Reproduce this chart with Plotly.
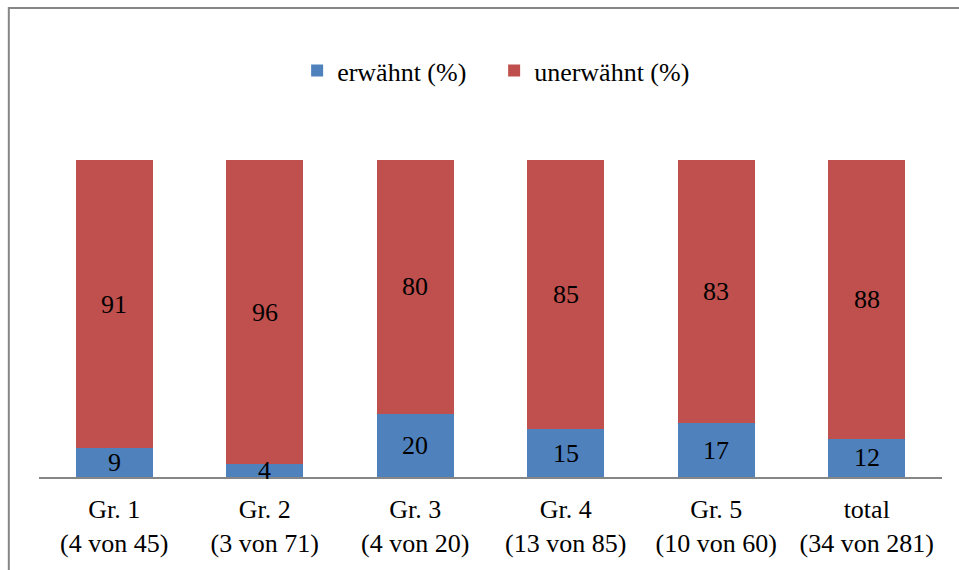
import plotly.graph_objects as go

# Share of entries per group, in percent
groups = ["Gr. 1", "Gr. 2", "Gr. 3", "Gr. 4", "Gr. 5", "total"]
counts = ["(4 von 45)", "(3 von 71)", "(4 von 20)", "(13 von 85)", "(10 von 60)", "(34 von 281)"]
erwaehnt = [9, 4, 20, 15, 17, 12]
unerwaehnt = [91, 96, 80, 85, 83, 88]

categories = [f"{g}<br>{c}" for g, c in zip(groups, counts)]

BLUE = "#4F81BD"
RED = "#C0504D"
AXIS = "#868686"
FONT = "Liberation Serif"
FS = 26

fig = go.Figure()
fig.add_trace(go.Bar(x=categories, y=erwaehnt, name="erwähnt (%)", marker_color=BLUE,
                     marker_line_width=0))
fig.add_trace(go.Bar(x=categories, y=unerwaehnt, name="unerwähnt (%)", marker_color=RED,
                     marker_line_width=0))

# Value labels centred in each segment
annotations = []
for cat, lo, hi in zip(categories, erwaehnt, unerwaehnt):
    annotations.append(dict(x=cat, y=lo / 2, text=str(lo), showarrow=False,
                            xref="x", yref="y", font=dict(size=FS, color="black", family=FONT)))
    annotations.append(dict(x=cat, y=lo + hi / 2, text=str(hi), showarrow=False,
                            xref="x", yref="y", font=dict(size=FS, color="black", family=FONT)))

L, R, T, B = 38.7, 16.7, 160, 91
W, H = 959, 570
pw, ph = W - L - R, H - T - B

fig.update_layout(
    width=W, height=H,
    margin=dict(l=L, r=R, t=T, b=B, pad=0),
    barmode="stack",
    bargap=0.489,
    paper_bgcolor="white",
    plot_bgcolor="white",
    font=dict(family=FONT, size=FS, color="black"),
    showlegend=True,
    legend=dict(orientation="h", x=(297 - L) / pw, xanchor="left", y=(H - B - 70) / ph,
                yanchor="middle", font=dict(size=FS, family=FONT), traceorder="normal",
                itemwidth=30, entrywidth=152, entrywidthmode="pixels",
                bgcolor="rgba(0,0,0,0)"),
    xaxis=dict(showline=True, linecolor=AXIS, linewidth=2, ticks="", showgrid=False,
               tickfont=dict(size=FS, family=FONT), zeroline=False, ticklabelstandoff=8),
    yaxis=dict(range=[0, 100], visible=False, showgrid=False, zeroline=False),
    annotations=annotations,
    shapes=[dict(type="rect", xref="paper", yref="paper",
                 x0=(8.5 - L) / pw, x1=(W + 20 - L) / pw,
                 y0=(H - B - (H + 20)) / ph, y1=(H - B - 7) / ph,
                 line=dict(color=AXIS, width=2), fillcolor="rgba(0,0,0,0)", layer="below")],
)

fig.write_html("out.html")
